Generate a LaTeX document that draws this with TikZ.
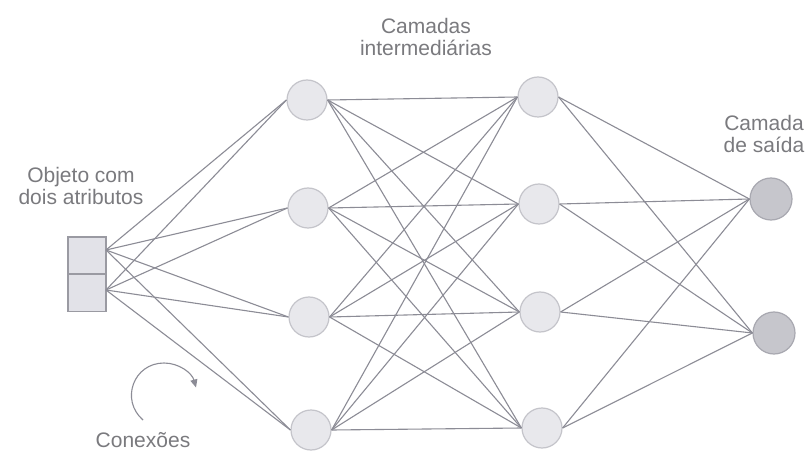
\documentclass[tikz,border=0pt]{standalone}
\usepackage{fontspec}
\setmainfont{Liberation Sans}
\usetikzlibrary{arrows.meta}
\definecolor{linec}{HTML}{8C8C96}
\definecolor{circf}{HTML}{E8E8EC}
\definecolor{circb}{HTML}{C4C4CA}
\definecolor{outf}{HTML}{C6C6CC}
\definecolor{outb}{HTML}{A8A8B0}
\definecolor{boxf}{HTML}{E2E2E8}
\definecolor{boxb}{HTML}{9A9AA2}
\definecolor{textc}{HTML}{7A7A7E}
\begin{document}
\begin{tikzpicture}[x=0.5pt,y=-0.5pt,
  hid/.style={circle,draw=circb,fill=circf,line width=0.6pt,minimum size=20pt,inner sep=0pt},
  outn/.style={circle,draw=outb,fill=outf,line width=0.6pt,minimum size=21pt,inner sep=0pt},
  cell/.style={rectangle,draw=boxb,fill=boxf,line width=0.6pt,minimum width=19pt,minimum height=18.5pt,inner sep=0pt},
  conn/.style={draw=linec,line width=0.55pt},
  lbl/.style={text=textc,font=\fontsize{10.5}{11}\selectfont,align=center,inner sep=0pt}]
\fill[white] (0,0) rectangle (808,454);
\useasboundingbox (0,0) rectangle (808,454);
% input object
\node[cell] (c1) at (87,255.5) {};
\node[cell] (c2) at (87,293) {};
\coordinate (p1) at (106,250);
\coordinate (p2) at (106,290);
% first hidden layer
\node[hid] (a1) at (307,100) {};
\node[hid] (a2) at (308,208) {};
\node[hid] (a3) at (309,317) {};
\node[hid] (a4) at (311,430) {};
% second hidden layer
\node[hid] (b1) at (538,97) {};
\node[hid] (b2) at (539,204) {};
\node[hid] (b3) at (540,312) {};
\node[hid] (b4) at (542,428) {};
% output layer
\node[outn] (o1) at (771,199) {};
\node[outn] (o2) at (774,333) {};
% connections
\foreach \i in {1,...,4} {
  \draw[conn] (p1) -- (a\i.west);
  \draw[conn] (p2) -- (a\i.west);
  \foreach \j in {1,...,4} {
    \draw[conn] (a\i.east) -- (b\j.west);
  }
  \draw[conn] (b\i.east) -- (o1.west);
  \draw[conn] (b\i.east) -- (o2.west);
}
% labels
\node[lbl] (tin) at (81,186) {Objeto com\\dois atributos};
\node[lbl] (thid) at (426,37) {Camadas\\intermediárias};
\node[lbl] (tout) at (764,134) {Camada\\de saída};
\node[lbl] (tcon) at (143,440) {Conexões};
% curved arrow
\coordinate (arcA) at (143,420);
\coordinate (arcB) at (164,363);
\coordinate (arcC) at (196,387.5);
\draw[conn,-{Triangle[length=4pt,width=3.5pt]}] (arcA) .. controls (120,400) and (133.5,363) .. (arcB) .. controls (179,363) and (192,373) .. (arcC);
\end{tikzpicture}
\end{document}
